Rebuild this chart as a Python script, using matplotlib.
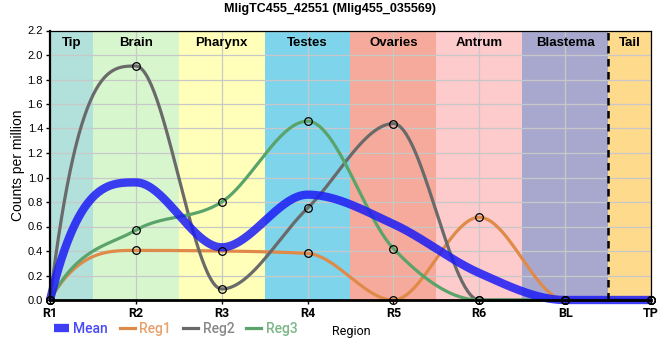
import numpy as np
import matplotlib
matplotlib.use("Agg")
import matplotlib.pyplot as plt
from matplotlib.lines import Line2D

# ---- data ----
regions = ["R1", "R2", "R3", "R4", "R5", "R6", "BL", "TP"]
reg1 = [0.0, 0.405, 0.40, 0.38, 0.0, 0.675, 0.0, 0.0]
reg2 = [0.0, 1.91, 0.09, 0.75, 1.44, 0.0, 0.0, 0.0]
reg3 = [0.0, 0.57, 0.80, 1.46, 0.42, 0.0, 0.0, 0.0]
mean = [0.0, 0.96, 0.43, 0.86, 0.62, 0.22, 0.0, 0.0]
band_names = ["Tip", "Brain", "Pharynx", "Testes", "Ovaries", "Antrum", "Blastema", "Tail"]
band_edges = [0, 0.5, 1.5, 2.5, 3.5, 4.5, 5.5, 6.5, 7]
band_colors = ["#b2e1dc", "#d8f6ce", "#ffffb9", "#7ed4eb", "#f5aa9b", "#fdcbcb", "#a8a8ce", "#feda8c"]
title = "MligTC455_42551 (Mlig455_035569)"


def monotone_curve(ys, n=60):
    ys = np.asarray(ys, float)
    xs = np.arange(len(ys), dtype=float)
    s = np.diff(ys)
    t = np.zeros(len(ys))
    for i in range(1, len(ys) - 1):
        s0, s1 = s[i - 1], s[i]
        p = (s0 + s1) / 2
        t[i] = (np.sign(s0) + np.sign(s1)) * min(abs(s0), abs(s1), 0.5 * abs(p))
    t[0] = 3 * s[0] - t[1]
    t[-1] = 3 * s[-1] - t[-2]
    X, Y = [], []
    for i in range(len(ys) - 1):
        u = np.linspace(0, 1, n, endpoint=(i == len(ys) - 2))
        h00 = 2 * u**3 - 3 * u**2 + 1
        h10 = u**3 - 2 * u**2 + u
        h01 = -2 * u**3 + 3 * u**2
        h11 = u**3 - u**2
        X.append(xs[i] + u)
        Y.append(h00 * ys[i] + h10 * t[i] + h01 * ys[i + 1] + h11 * t[i + 1])
    return np.concatenate(X), np.concatenate(Y)


fig = plt.figure(figsize=(6.6, 3.6), dpi=100)
ax = fig.add_axes([50 / 660, 1 - 300 / 360, 601 / 660, 269.5 / 360])
ax.set_xlim(0, 7)
ax.set_ylim(0, 2.2)

for i, name in enumerate(band_names):
    ax.axvspan(band_edges[i], band_edges[i + 1], color=band_colors[i], zorder=0, lw=0)
    ax.text((band_edges[i] + band_edges[i + 1]) / 2, 2.2 - 0.1, name, ha="center", va="center",
            fontsize=9.5, fontweight="bold", family="Liberation Sans", zorder=5)

ax.set_yticks(np.arange(0, 2.21, 0.2))
ax.set_yticklabels([f"{v:.1f}" for v in np.arange(0, 2.21, 0.2)], family="Liberation Sans", fontsize=8)
ax.set_xticks(range(len(regions)))
ax.set_xticklabels(regions, family="Roboto", fontweight="bold", fontsize=9)
ax.grid(True, color="#c8c8c8", lw=0.9, zorder=1)
ax.set_axisbelow(False)
ax.tick_params(axis="both", length=3, width=1, pad=2)

ax.axvline(6.5, color="black", ls=(0, (3, 2.2)), lw=1.8, zorder=6)

c1, c2, c3, cm = "#e08a4a", "#6a6a6a", "#5aa36a", "#1c1cf5"
for data, col in [(reg1, c1), (reg2, c2), (reg3, c3)]:
    X, Y = monotone_curve(data)
    ax.plot(X, Y, color=col, lw=2.3, zorder=3, clip_on=False, solid_capstyle="butt")
X, Y = monotone_curve(mean)
ax.plot(X, Y, color=cm, lw=6, alpha=0.85, zorder=4, clip_on=False, solid_capstyle="butt")
for data in [reg1, reg2, reg3]:
    ax.plot(range(len(regions)), data, ls="none", marker="o", ms=5.5, mfc="none", mec="black",
            mew=0.9, zorder=7, clip_on=False)

for side in ["top", "right"]:
    ax.spines[side].set_linewidth(0.9)
ax.spines["left"].set_linewidth(1.6)
ax.spines["bottom"].set_linewidth(2.0)
for sp in ax.spines.values():
    sp.set_zorder(8)

fig.text(18 / 660, 1 - 165 / 360, "Counts per million", rotation=90, ha="center", va="center",
         family="Liberation Sans", fontsize=10)

fig.text(330 / 660, 1 - 9 / 360, title, ha="center", va="center", fontsize=9, fontweight="bold",
         family="Liberation Sans")

handles = [Line2D([], [], color=cm, lw=6, alpha=0.85, solid_capstyle="butt"),
           Line2D([], [], color=c1, lw=2.3),
           Line2D([], [], color=c2, lw=2.3),
           Line2D([], [], color=c3, lw=2.3)]
leg = fig.legend(handles, ["Mean", "Reg1", "Reg2", "Reg3"], loc="center left",
                 bbox_to_anchor=(54 / 660, 1 - 329 / 360), ncol=4, frameon=False,
                 handlelength=1.1, handletextpad=0.3, columnspacing=0.85,
                 prop={"family": "Roboto", "size": 10, "weight": "medium"}, borderpad=0, borderaxespad=0)
for txt, col in zip(leg.get_texts(), [cm, c1, c2, c3]):
    txt.set_color(col)
    txt.set_alpha(0.8)
fig.text(332 / 660, 1 - 331 / 360, "Region", ha="left", va="center", fontsize=9, family="Roboto")

fig.savefig("out.png", dpi=100)
